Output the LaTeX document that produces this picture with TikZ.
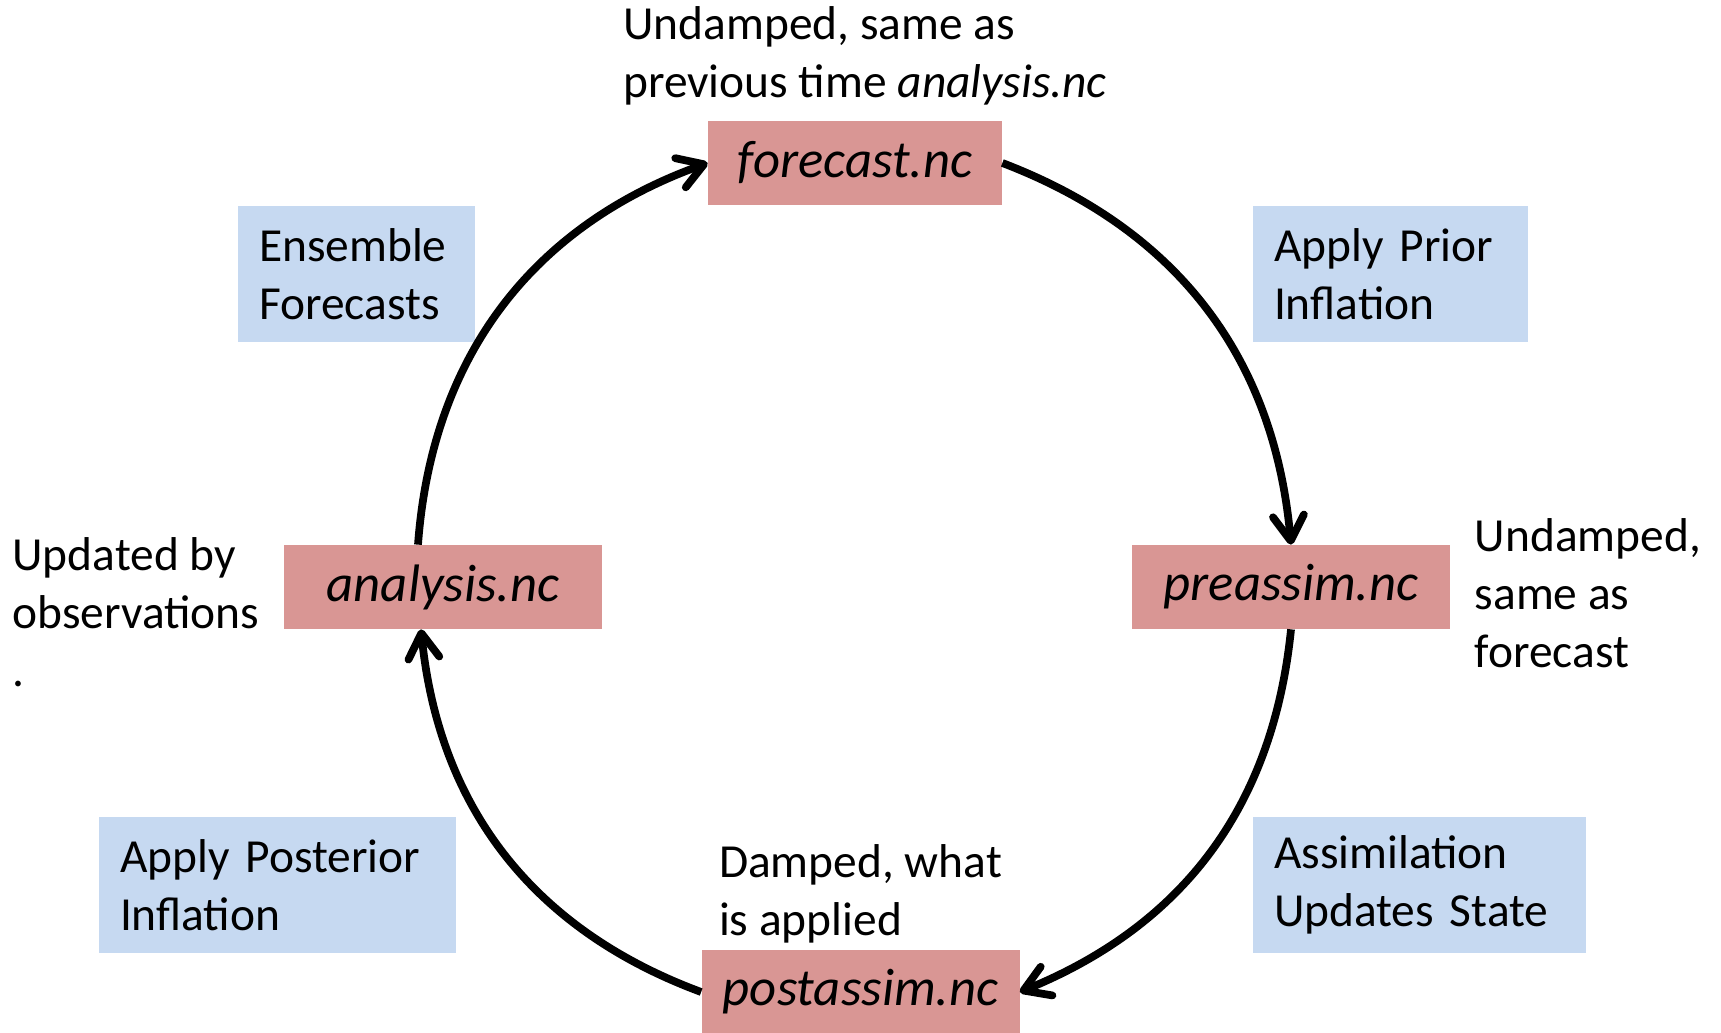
\documentclass[tikz,border=0pt]{standalone}
\usepackage{fontspec}
\setmainfont{Carlito}
\usetikzlibrary{positioning}
\usetikzlibrary{arrows.meta}
\usetikzlibrary{calc}

\definecolor{filered}{HTML}{D99694}
\definecolor{stepblue}{HTML}{C6D9F1}

\begin{document}
\begin{tikzpicture}[
                filebox/.style={fill=filered, minimum width=6.36cm, minimum height=1.68cm, inner sep=0pt, font=\fontsize{30}{36}\selectfont\itshape},
                stepbox/.style={fill=stepblue, minimum height=2.72cm, inner xsep=0.42cm, inner ysep=0pt, align=left, font=\fontsize{27}{33}\selectfont},
                remark/.style={inner sep=0pt, align=left, font=\fontsize{27}{33}\selectfont},
                cycle/.style={line width=4.4pt, -{Straight Barb[length=5mm, width=6.2mm, round]}}
            ]

            \useasboundingbox (0,0) rectangle (34.42,20.64);

            % Define nodes
            \coordinate (hub) at (17.1,8.9);
            \node[filebox, minimum width=5.88cm] (forecast) at ($(hub)+(0,8.48)$) {forecast.nc};
            \node[filebox] (preassim) at ($(hub)+(8.72,0)$) {preassim.nc};
            \node[filebox] (postassim) at ($(hub)+(0.11,-8.1)$) {postassim.nc};
            \node[filebox] (analysis) at ($(hub)+(-8.24,0)$) {analysis.nc};

            % Steps between the files
            \node[stepbox, text width=3.9cm] (ensemble) at (7.13,15.16) {Ensemble\\Forecasts};
            \node[stepbox, text width=4.66cm] (prior) at (27.81,15.16) {Apply Prior\\Inflation};
            \node[stepbox, text width=5.82cm] (update) at (28.39,2.94) {Assimilation\\Updates State};
            \node[stepbox, text width=6.3cm] (posterior) at (5.55,2.94) {Apply Posterior\\Inflation};

            % Remarks on each file
            \node[remark, above=0.3cm of forecast, xshift=0.2cm] (fcnote) {Undamped, same as\\previous time \textit{analysis.nc}};
            \node[remark, right=0.48cm of preassim, yshift=-0.12cm] (prenote) {Undamped,\\same as\\forecast};
            \node[remark, above=0.12cm of postassim] (postnote) {Damped, what\\is applied};
            \node[remark, left=0.48cm of analysis, yshift=-0.5cm] (annote) {Updated by\\observations\\.};

            % Arrows round the cycle
            \draw[cycle] (forecast.east) to[bend left=32] (preassim.north);
            \draw[cycle] (preassim.south) to[bend left=31] (postassim.east);
            \draw[cycle] (postassim.west) to[bend left=32] ([xshift=-0.44cm]analysis.south);
            \draw[cycle] ([xshift=-0.5cm]analysis.north) to[bend left=33] (forecast.west);

        \end{tikzpicture}
\end{document}
